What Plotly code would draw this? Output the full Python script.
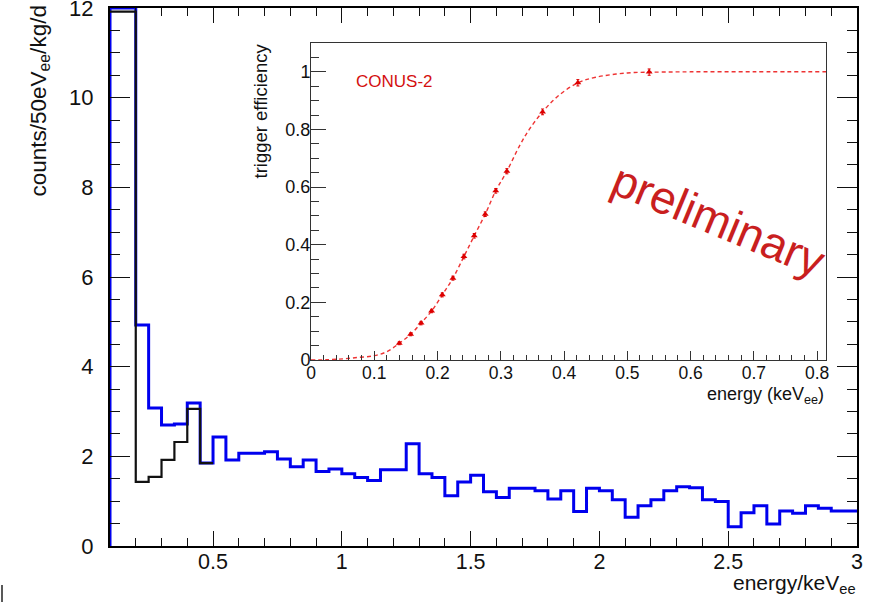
import numpy as np
import plotly.graph_objects as go

# ---------------- data ----------------
bin_low = 0.1          # first bin edge (keV_ee)
bin_width = 0.05       # 50 eV bins
n_bins = 58

# blue spectrum (counts/50eV_ee/kg/d), first two bins exceed the axis (drawn clipped at 12)
blue_counts = [12.0, 12.0, 4.93, 3.08, 2.70, 2.72, 3.19, 1.85, 2.43, 1.92,
               2.07, 2.07, 2.10, 1.94, 1.77, 1.92, 1.66, 1.72, 1.61, 1.53,
               1.46, 1.70, 1.70, 2.28, 1.61, 1.53, 1.12, 1.43, 1.58, 1.21,
               1.08, 1.29, 1.29, 1.23, 1.05, 1.23, 0.77, 1.29, 1.23, 1.03,
               0.64, 0.90, 1.03, 1.23, 1.32, 1.30, 1.03, 0.99, 0.43, 0.74,
               0.90, 0.49, 0.78, 0.73, 0.90, 0.84, 0.78, 0.78]
# black spectrum, only the low-energy part (0.1 - 0.5 keV_ee)
black_counts = [11.92, 11.92, 1.43, 1.54, 1.92, 2.32, 3.06, 1.85]

main_xticks = [0.5, 1, 1.5, 2, 2.5, 3]
main_xticktext = ["0.5", "1", "1.5", "2", "2.5", "3"]
main_yticks = [0, 2, 4, 6, 8, 10, 12]
main_yticktext = ["0", "2", "4", "6", "8", "10", "12"]

# inset: trigger efficiency
eff_energy = [0.1395, 0.1575, 0.174, 0.1906, 0.2075, 0.2243, 0.2417, 0.258,
              0.2754, 0.292, 0.3096, 0.366, 0.4218, 0.5345]
eff_value = [0.058, 0.089, 0.128, 0.170, 0.226, 0.284, 0.359, 0.431,
             0.506, 0.587, 0.655, 0.861, 0.962, 0.999]
eff_error = [0.005, 0.005, 0.006, 0.006, 0.007, 0.007, 0.008, 0.008,
             0.008, 0.008, 0.009, 0.010, 0.011, 0.011]
fit_energy = [0.0, 0.025, 0.05, 0.075, 0.1, 0.12, 0.1395, 0.1575, 0.174, 0.1906,
              0.2075, 0.2243, 0.2417, 0.258, 0.2754, 0.292, 0.3096, 0.33, 0.345,
              0.366, 0.39, 0.4218, 0.45, 0.5, 0.55, 0.6, 0.7, 0.814]
fit_value = [0.0, 0.001, 0.004, 0.009, 0.015, 0.029, 0.058, 0.089, 0.128, 0.170,
             0.226, 0.284, 0.359, 0.431, 0.506, 0.587, 0.655, 0.745, 0.80,
             0.861, 0.915, 0.962, 0.981, 0.996, 0.999, 1.0, 1.0, 1.0]
inset_xticks = [0, 0.1, 0.2, 0.3, 0.4, 0.5, 0.6, 0.7, 0.8]
inset_xticktext = ["0", "0.1", "0.2", "0.3", "0.4", "0.5", "0.6", "0.7", "0.8"]
inset_yticks = [0, 0.2, 0.4, 0.6, 0.8, 1.0]
inset_yticktext = ["0", "0.2", "0.4", "0.6", "0.8", "1"]

# ---------------- helpers ----------------
edges = np.round(bin_low + bin_width * np.arange(n_bins + 1), 4)

def step_xy(vals, start_from_zero=True):
    n = len(vals)
    xs = list(edges[: n + 1])
    ys = list(vals) + [vals[-1]]
    if start_from_zero:
        xs = [edges[0]] + xs
        ys = [0.0] + ys
    return xs, ys

FONT = "Liberation Sans, Arial, Helvetica, sans-serif"
RED = "#d40f0f"

W, H = 873, 603
L, R, T, B = 110, 16, 8, 57
pw, ph = W - L - R, H - T - B

def px(x):
    return (x - L) / pw

def py(y):
    return (H - B - y) / ph

fig = go.Figure()

bx, by = step_xy(blue_counts, True)
fig.add_trace(go.Scatter(x=bx, y=by, mode="lines", line=dict(color="#0000ee", width=3, shape="hv"),
                         hoverinfo="skip", showlegend=False))
kx, ky = step_xy(black_counts, False)
fig.add_trace(go.Scatter(x=kx, y=ky, mode="lines", line=dict(color="#111111", width=2.2, shape="hv"),
                         hoverinfo="skip", showlegend=False))

# inset
fig.add_trace(go.Scatter(x=fit_energy, y=fit_value, mode="lines", xaxis="x2", yaxis="y2",
                         line=dict(color="#ee3333", width=1.4, dash="4px,3px", shape="spline"),
                         hoverinfo="skip", showlegend=False))
fig.add_trace(go.Scatter(x=eff_energy, y=eff_value, mode="markers", xaxis="x2", yaxis="y2",
                         marker=dict(symbol="triangle-up", size=6, color="#dd0000"),
                         error_y=dict(type="data", array=eff_error, color="#dd0000", thickness=1, width=1.5),
                         hoverinfo="skip", showlegend=False))

common = dict(automargin=False, ticklabeloverflow="allow", showgrid=False, zeroline=False)

fig.update_layout(
    template="none",
    width=W, height=H,
    margin=dict(l=L, r=R, t=T, b=B, pad=0, autoexpand=False),
    paper_bgcolor="white", plot_bgcolor="white",
    font=dict(family=FONT, color="#111111"),
    xaxis=dict(range=[0.1, 3.0], tickvals=main_xticks, ticktext=main_xticktext,
               ticks="inside", ticklen=15, tickwidth=1.3, tickcolor="#111",
               minor=dict(dtick=0.1, tick0=0, ticks="inside", ticklen=8, tickwidth=1.3, tickcolor="#111"),
               showline=True, linecolor="#000", linewidth=2, mirror="ticks",
               tickfont=dict(size=21.5, family=FONT, color="#111"), ticklabelstandoff=-5, **common),
    yaxis=dict(range=[0, 12.0001], tickvals=main_yticks, ticktext=main_yticktext,
               ticks="inside", ticklen=20, tickwidth=1.3, tickcolor="#111",
               minor=dict(dtick=0.5, tick0=0, ticks="inside", ticklen=10, tickwidth=1.3, tickcolor="#111"),
               showline=True, linecolor="#000", linewidth=2, mirror="ticks",
               tickfont=dict(size=22, family=FONT, color="#111"), ticklabelstandoff=10, **common),
    xaxis2=dict(domain=[px(311), px(826)], anchor="y2", range=[0, 0.814],
                tickvals=inset_xticks, ticktext=inset_xticktext,
                ticks="inside", ticklen=9, tickwidth=1, tickcolor="#333",
                minor=dict(dtick=0.02, tick0=0, ticks="inside", ticklen=5, tickwidth=1, tickcolor="#333"),
                showline=True, linecolor="#333", linewidth=1, mirror=True,
                tickfont=dict(size=17.5, family=FONT, color="#111"), ticklabelstandoff=-3, **common),
    yaxis2=dict(domain=[py(360), py(43)], anchor="x2", range=[0, 1.1],
                tickvals=inset_yticks, ticktext=inset_yticktext,
                ticks="inside", ticklen=15, tickwidth=1, tickcolor="#333",
                minor=dict(dtick=0.05, tick0=0, ticks="inside", ticklen=8, tickwidth=1, tickcolor="#333"),
                showline=True, linecolor="#333", linewidth=1, mirror=True,
                tickfont=dict(size=18, family=FONT, color="#111"), ticklabelstandoff=-4, **common),
)

ann = []
ann.append(dict(text="energy/keV<sub>ee</sub>", xref="paper", yref="paper", x=px(858), y=py(569),
                xanchor="right", yanchor="top", showarrow=False, font=dict(size=21, family=FONT, color="#111")))
ann.append(dict(text="counts/50eV<sub>ee</sub>/kg/d", xref="paper", yref="paper", x=px(40), y=py(4),
                xanchor="center", yanchor="top", textangle=-90, showarrow=False,
                font=dict(size=22.5, family=FONT, color="#111")))
ann.append(dict(text="energy (keV<sub>ee</sub>)", xref="paper", yref="paper", x=px(826), y=py(382),
                xanchor="right", yanchor="top", showarrow=False, font=dict(size=18, family=FONT, color="#111")))
ann.append(dict(text="trigger efficiency", xref="paper", yref="paper", x=px(260), y=py(42),
                xanchor="center", yanchor="top", textangle=-90, showarrow=False,
                font=dict(size=18.5, family=FONT, color="#111")))
ann.append(dict(text="CONUS-2", xref="paper", yref="paper", x=px(354), y=py(81),
                xanchor="left", yanchor="middle", showarrow=False, font=dict(size=17, family=FONT, color=RED)))
ann.append(dict(text="preliminary", xref="paper", yref="paper", x=px(718), y=py(220),
                xanchor="center", yanchor="middle", textangle=22.5, showarrow=False,
                font=dict(size=46, family=FONT, color="#c91f1f")))
fig.update_layout(annotations=ann)

# small stray mark at the lower-left corner of the page
fig.add_shape(type="line", xref="paper", yref="paper", x0=px(2), x1=px(2), y0=py(585), y1=py(602),
              line=dict(color="#222", width=1.5))

# remove the default 8px page margin so the figure sits at the page origin
fig.write_html("out.html", config={"displayModeBar": False},
               post_script="document.body.style.margin='0px';")
